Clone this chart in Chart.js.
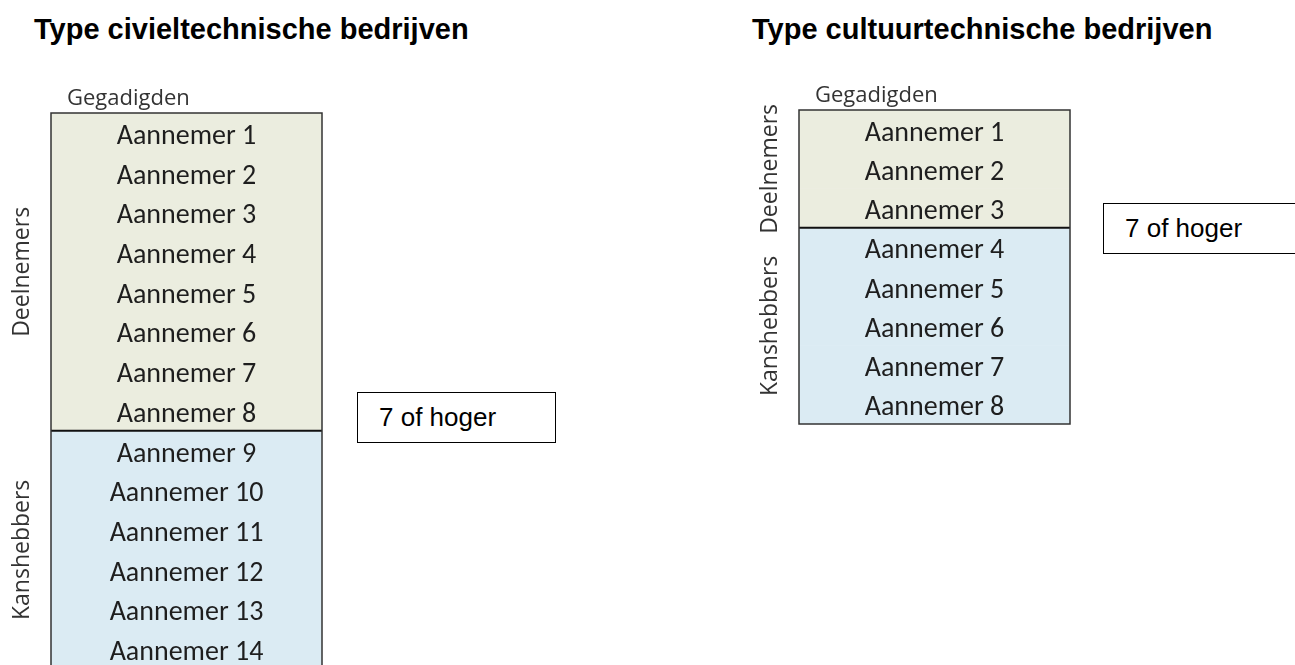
<!DOCTYPE html>
<html>
<head>
<meta charset="utf-8">
<script src="https://cdn.jsdelivr.net/npm/chart.js"></script>
<style>
html, body { margin: 0; padding: 0; background: #fff; overflow: hidden; width: 1295px; height: 665px; }
.title { position: absolute; font: bold 29px "Liberation Sans", Arial, sans-serif; line-height: 29px; white-space: nowrap; color: #000; }
.note { position: absolute; box-sizing: border-box; height: 51px; border: 1.5px solid #000; background: #fff;
        font: 26px "Liberation Sans", Arial, sans-serif; display: flex; align-items: center; padding-left: 21px; white-space: nowrap; }
canvas { position: absolute; }
</style>
</head>
<body>
<div class="title" style="left:34px; top:15px">Type civieltechnische bedrijven</div>
<div class="title" style="left:752px; top:15px">Type cultuurtechnische bedrijven</div>

<canvas id="civiel" width="360" height="600" style="left:0; top:80px"></canvas>
<canvas id="cultuur" width="360" height="360" style="left:740px; top:80px"></canvas>

<div class="note" style="left:357px; top:392px; width:199px">7 of hoger</div>
<div class="note" style="left:1103px; top:203px; width:240px">7 of hoger</div>

<script>
// civieltechnisch: 14 gegadigden
var civielRows = ['Aannemer 1', 'Aannemer 2', 'Aannemer 3', 'Aannemer 4', 'Aannemer 5', 'Aannemer 6', 'Aannemer 7',
                  'Aannemer 8', 'Aannemer 9', 'Aannemer 10', 'Aannemer 11', 'Aannemer 12', 'Aannemer 13', 'Aannemer 14'];
var civielGroups = ['Deelnemers', 'Deelnemers', 'Deelnemers', 'Deelnemers', 'Deelnemers', 'Deelnemers', 'Deelnemers',
                    'Deelnemers', 'Kanshebbers', 'Kanshebbers', 'Kanshebbers', 'Kanshebbers', 'Kanshebbers', 'Kanshebbers'];
var civielValues = [1, 1, 1, 1, 1, 1, 1, 1, 1, 1, 1, 1, 1, 1];

// cultuurtechnisch: 8 gegadigden
var cultuurRows = ['Aannemer 1', 'Aannemer 2', 'Aannemer 3', 'Aannemer 4', 'Aannemer 5', 'Aannemer 6', 'Aannemer 7', 'Aannemer 8'];
var cultuurGroups = ['Deelnemers', 'Deelnemers', 'Deelnemers', 'Kanshebbers', 'Kanshebbers', 'Kanshebbers', 'Kanshebbers', 'Kanshebbers'];
var cultuurValues = [1, 1, 1, 1, 1, 1, 1, 1];

var groupColors = { 'Deelnemers': 'rgb(235, 237, 223)', 'Kanshebbers': 'rgb(219, 235, 243)' };

// draws the row names, the group labels, the divider and the frame
var panelPlugin = {
    id: 'panel',
    afterDatasetsDraw: function(chart) {
        var ctx = chart.ctx;
        var a = chart.chartArea;
        var yS = chart.scales.y;
        var labels = chart.data.labels;
        var groups = chart.options.plugins.panel.groups;
        var n = labels.length;

        ctx.save();
        ctx.fillStyle = '#1e1e1e';
        ctx.font = '28px Carlito, Calibri, Lato, sans-serif';
        ctx.textAlign = 'center';
        ctx.textBaseline = 'middle';
        for (var i = 0; i < n; i++) {
            ctx.fillText(labels[i], (a.left + a.right) / 2, yS.getPixelForValue(i) + 4);
        }

        var edge = function(i) {
            if (i <= 0) return a.top;
            if (i >= n) return a.bottom;
            return (yS.getPixelForValue(i - 1) + yS.getPixelForValue(i)) / 2;
        };

        var start = 0;
        for (var j = 1; j <= n; j++) {
            if (j == n || groups[j] != groups[j - 1]) {
                var mid = (edge(start) + edge(j)) / 2;
                ctx.save();
                ctx.translate(a.left - 29, mid);
                ctx.rotate(-Math.PI / 2);
                ctx.fillStyle = '#333';
                ctx.font = '23px "Open Sans", sans-serif';
                ctx.fillText(groups[start], 0, 0);
                ctx.restore();
                if (j < n) {
                    ctx.strokeStyle = '#111';
                    ctx.lineWidth = 2;
                    ctx.beginPath();
                    ctx.moveTo(a.left, edge(j));
                    ctx.lineTo(a.right, edge(j));
                    ctx.stroke();
                }
                start = j;
            }
        }

        ctx.strokeStyle = '#333';
        ctx.lineWidth = 1.5;
        ctx.strokeRect(a.left, a.top, a.right - a.left, a.bottom - a.top);

        ctx.fillStyle = '#333';
        ctx.font = '22px "Open Sans", sans-serif';
        ctx.textAlign = 'left';
        ctx.textBaseline = 'alphabetic';
        ctx.fillText('Gegadigden', a.left + 16, a.top - 8);
        ctx.restore();
    }
};

function makePanel(id, rows, groups, values, padding) {
    return new Chart(document.getElementById(id), {
        type: 'bar',
        data: {
            labels: rows,
            datasets: [{
                data: values,
                backgroundColor: groups.map(function(g) { return groupColors[g]; }),
                borderWidth: 0,
                barPercentage: 1,
                categoryPercentage: 1
            }]
        },
        options: {
            indexAxis: 'y',
            responsive: false,
            animation: false,
            layout: { padding: padding },
            scales: {
                x: { display: false, min: 0, max: 1 },
                y: { display: false }
            },
            plugins: {
                legend: { display: false },
                tooltip: { enabled: false },
                panel: { groups: groups }
            }
        },
        plugins: [panelPlugin]
    });
}

makePanel('civiel', civielRows, civielGroups, civielValues, { left: 51, right: 38, top: 33, bottom: 11 });
makePanel('cultuur', cultuurRows, cultuurGroups, cultuurValues, { left: 59, right: 30, top: 30, bottom: 16 });
</script>
</body>
</html>
